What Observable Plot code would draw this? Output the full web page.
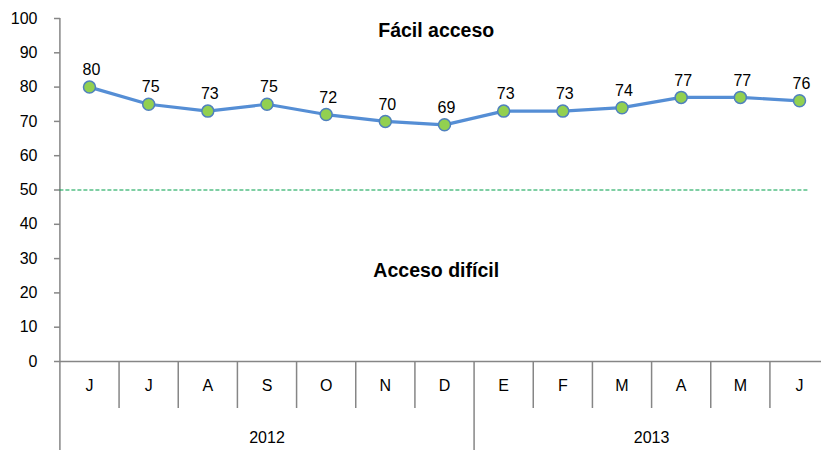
<!DOCTYPE html>
<html>
<head>
<meta charset="utf-8">
<script src="https://cdn.jsdelivr.net/npm/d3@7"></script>
<script src="https://cdn.jsdelivr.net/npm/@observablehq/plot@0.6"></script>
<style>
  html, body { margin: 0; padding: 0; background: #fff; }
  #chart svg { display: block; font-family: "Liberation Sans", Arial, sans-serif; }
</style>
</head>
<body>
<div id="chart"></div>
<script>
// ---- data ----
const months = ["J","J","A","S","O","N","D","E","F","M","A","M","J"];
const values = [80,75,73,75,72,70,69,73,73,74,77,77,76];
const years = ["2012","2013"];
const yearMonthCounts = [7, 6];
const yTicks = [0,10,20,30,40,50,60,70,80,90,100];
const threshold = 50;
const zoneLabels = ["Fácil acceso", "Acceso difícil"];
const zoneLabelValues = [96.5, 26.5];

// ---- derived tables ----
const points = months.map((m, i) => ({i, m, v: values[i]}));
let start = 0;
const yearSpans = years.map((y, k) => {
  const s = start; start += yearMonthCounts[k];
  return {year: y, from: s - 0.5, to: s + yearMonthCounts[k] - 0.5};
});
const monthSeps = d3.range(months.length - 1).map(i => i + 0.5)
  .filter(x => !yearSpans.some(s => Math.abs(s.from - x) < 1e-9));
const yearSeps = yearSpans.map(s => s.from);

// layout helpers in data units (below the axis)
const monthRowBottom = -13.7;
const yearRowBottom = -26;
const monthLabelY = -7;
const yearLabelY = -22.4;
const zoneLabelX = 5.86;
const axisGray = "#868686";

const chart = Plot.plot({
  width: 821,
  height: 450,
  marginLeft: 60,
  marginRight: 0,
  marginTop: 18,
  marginBottom: 89,
  style: {fontFamily: "Liberation Sans, Arial, sans-serif", fontSize: "16px", background: "#fff"},
  x: {type: "linear", domain: [-0.5, 12.5], range: [59.4, 828.6], axis: null},
  y: {domain: [0, 100], axis: null},
  marks: [
    // y axis ticks & labels
    Plot.axisY(yTicks, {anchor: "left", label: null, tickSize: 6, tickPadding: 17, stroke: axisGray, fill: "black", fontSize: 16, strokeWidth: 1.5}),
    // horizontal axis line at 0
    Plot.ruleY([0], {stroke: axisGray, strokeWidth: 1.5}),
    // left axis line, down through category rows
    Plot.ruleX([-0.5], {y1: yearRowBottom, y2: 100, stroke: axisGray, strokeWidth: 1.5}),
    // month separators
    Plot.ruleX(monthSeps, {y1: monthRowBottom, y2: 0, stroke: axisGray, strokeWidth: 1.5}),
    // year separators
    Plot.ruleX(yearSeps.filter(x => x > -0.5), {y1: yearRowBottom, y2: 0, stroke: axisGray, strokeWidth: 1.5}),
    // month labels
    Plot.text(points, {x: "i", y: () => monthLabelY, text: "m", fontSize: 16, fill: "black"}),
    // year labels
    Plot.text(yearSpans, {x: d => (d.from + d.to) / 2, y: () => yearLabelY, text: "year", fontSize: 16, fill: "black"}),
    // threshold dashed line
    Plot.ruleY([threshold], {x1: -0.5, x2: 12.15, stroke: "#00A04A", strokeWidth: 1.2, strokeDasharray: "4,2"}),
    // zone labels
    Plot.text(zoneLabels, {x: () => zoneLabelX, y: (d, i) => zoneLabelValues[i], text: d => d, fontSize: 19.5, fontWeight: "bold", fill: "black"}),
    // series line
    Plot.lineY(points, {x: "i", y: "v", stroke: "#558ED5", strokeWidth: 3.2}),
    // dots
    Plot.dot(points, {x: "i", y: "v", r: 6, fill: "#92D050", stroke: "#4F81BD", strokeWidth: 1.5}),
    // data labels
    Plot.text(points, {x: "i", y: "v", text: d => String(d.v), dy: -17, dx: 2, fontSize: 16, fill: "black"})
  ]
});
document.getElementById("chart").appendChild(chart);
</script>
</body>
</html>
